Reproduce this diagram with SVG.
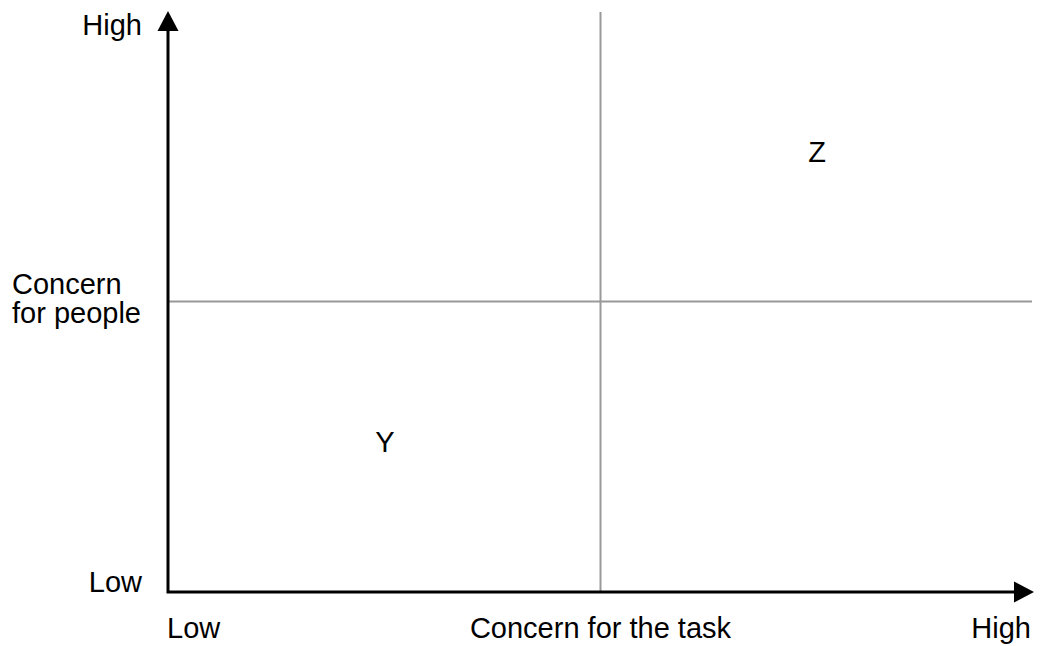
<svg xmlns="http://www.w3.org/2000/svg" width="1041" height="646" viewBox="0 0 1041 646">
<style>
.t{font-family:"Liberation Sans",Arial,sans-serif;font-size:29px;fill:#000}
.axis{stroke:#000;stroke-width:3;fill:none}
.grid{stroke:#999;stroke-width:2;fill:none}
</style>
<rect width="1041" height="646" fill="#fff"/>
<g id="connectors">
<line class="grid" x1="600.5" y1="12" x2="600.5" y2="592"/>
<line class="grid" x1="168" y1="301.5" x2="1032" y2="301.5"/>
<polyline class="axis" points="168,28 168,592 1016,592"/>
<polygon points="168,11 157.5,31 178.5,31" fill="#000"/>
<polygon points="1034,592 1014,581.5 1014,602.5" fill="#000"/>
</g>
<g id="y-high"><text class="t" x="142" y="35" text-anchor="end">High</text></g>
<g id="y-label"><text class="t" x="12" y="294">Concern</text><text class="t" x="12" y="323">for people</text></g>
<g id="y-low"><text class="t" x="142" y="592" text-anchor="end">Low</text></g>
<g id="x-low"><text class="t" x="167" y="638">Low</text></g>
<g id="x-label"><text class="t" x="600.5" y="638" text-anchor="middle">Concern for the task</text></g>
<g id="x-high"><text class="t" x="1031" y="638" text-anchor="end">High</text></g>
<g id="Y"><text class="t" x="385" y="452" text-anchor="middle">Y</text></g>
<g id="Z"><text class="t" x="817" y="162" text-anchor="middle">Z</text></g>
</svg>
